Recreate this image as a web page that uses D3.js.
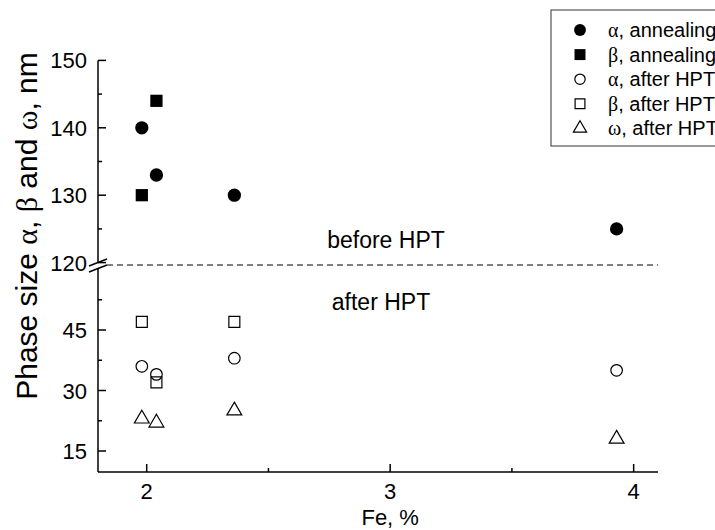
<!DOCTYPE html>
<meta charset="utf-8">
<style>
  body { margin: 0; background: #fff; }
  svg { font-family: Arial, "Liberation Sans", sans-serif; }
  .axis path, .axis line { fill: none; stroke: #000; stroke-width: 1.5px; }
  .greek { font-family: "Liberation Serif", "DejaVu Serif", serif; }
</style>
<body>
<script src="https://d3js.org/d3.v7.min.js"></script>
<script>

// Fe content, %
var feAlphaAnn = [1.98, 2.04, 2.36, 3.93],
    alphaAnn   = [140, 133, 130, 125];
var feBetaAnn  = [1.98, 2.04],
    betaAnn    = [130, 144];
var feAlphaHpt = [1.98, 2.04, 2.36, 3.93],
    alphaHpt   = [36, 34, 38, 35];
var feBetaHpt  = [1.98, 2.04, 2.36],
    betaHpt    = [47, 32, 47];
var feOmegaHpt = [1.98, 2.04, 2.36, 3.93],
    omegaHpt   = [23, 22, 25, 18];

var xTicks = [2, 3, 4],
    xMinor = [2.5, 3.5],
    upperTicks = [120, 130, 140, 150],
    upperMinor = [125, 135, 145],
    lowerTicks = [15, 30, 45],
    lowerMinor = [22.5, 37.5, 52.5];

var W = 715, H = 530;
var x0 = 98, x1 = 658, yBottom = 472, yBreak = 265;

var x = d3.scaleLinear().domain([1.8, 4.1]).range([x0, x1]);
var yUp = d3.scaleLinear().domain([120, 150]).range([262.6, 60.4]);
var yLow = d3.scaleLinear().domain([15, 45]).range([451, 330]);

var svg = d3.select("body").append("svg")
    .attr("width", W)
    .attr("height", H);

// axes
var ax = svg.append("g").attr("class", "axis");
ax.append("line").attr("x1", x0).attr("x2", x1).attr("y1", yBottom).attr("y2", yBottom);
ax.append("line").attr("x1", x0).attr("x2", x0).attr("y1", yUp(150)).attr("y2", yBreak - 3);
ax.append("line").attr("x1", x0).attr("x2", x0).attr("y1", yBreak + 4).attr("y2", yBottom);

ax.selectAll(".xt").data(xTicks).enter().append("line")
    .attr("x1", x).attr("x2", x).attr("y1", yBottom).attr("y2", yBottom - 8);
ax.selectAll(".xm").data(xMinor).enter().append("line")
    .attr("x1", x).attr("x2", x).attr("y1", yBottom).attr("y2", yBottom - 4);

ax.selectAll(".yu").data(upperTicks).enter().append("line")
    .attr("x1", x0).attr("x2", x0 + 8).attr("y1", yUp).attr("y2", yUp);
ax.selectAll(".yum").data(upperMinor).enter().append("line")
    .attr("x1", x0).attr("x2", x0 + 4).attr("y1", yUp).attr("y2", yUp);
ax.selectAll(".yl").data(lowerTicks).enter().append("line")
    .attr("x1", x0).attr("x2", x0 + 8).attr("y1", yLow).attr("y2", yLow);
ax.selectAll(".ylm").data(lowerMinor).enter().append("line")
    .attr("x1", x0).attr("x2", x0 + 4).attr("y1", yLow).attr("y2", yLow);

// break marks
ax.selectAll(".brk").data([-3, 3]).enter().append("line")
    .attr("x1", x0 - 9).attr("x2", x0 + 9)
    .attr("y1", function(d) { return yBreak + d + 4; })
    .attr("y2", function(d) { return yBreak + d - 3; });

// tick labels
svg.selectAll(".xl").data(xTicks).enter().append("text")
    .attr("x", x).attr("y", yBottom + 27)
    .attr("text-anchor", "middle").attr("font-size", 22)
    .text(function(d) { return d; });
svg.selectAll(".yul").data(upperTicks).enter().append("text")
    .attr("x", x0 - 11).attr("y", function(d) { return yUp(d) + 8; })
    .attr("text-anchor", "end").attr("font-size", 22)
    .text(function(d) { return d; });
svg.selectAll(".yll").data(lowerTicks).enter().append("text")
    .attr("x", x0 - 11).attr("y", function(d) { return yLow(d) + 8; })
    .attr("text-anchor", "end").attr("font-size", 22)
    .text(function(d) { return d; });

// axis titles
svg.append("text")
    .attr("x", x(3)).attr("y", 525)
    .attr("text-anchor", "middle").attr("font-size", 22)
    .text("Fe, %");

var yt = svg.append("text")
    .attr("transform", "translate(37,226) rotate(-90)")
    .attr("text-anchor", "middle").attr("font-size", 30);
yt.append("tspan").text("Phase size ");
yt.append("tspan").attr("class", "greek").text("\u03b1");
yt.append("tspan").text(", ");
yt.append("tspan").attr("class", "greek").text("\u03b2");
yt.append("tspan").text(" and ");
yt.append("tspan").attr("class", "greek").text("\u03c9");
yt.append("tspan").text(", nm");

// dashed break line + region labels
svg.append("line")
    .attr("x1", x0 + 9).attr("x2", x1).attr("y1", yBreak).attr("y2", yBreak)
    .attr("stroke", "#555").attr("stroke-width", 1.5).attr("stroke-dasharray", "6,4");
svg.append("text").attr("x", 386).attr("y", 248)
    .attr("text-anchor", "middle").attr("font-size", 23).text("before HPT");
svg.append("text").attr("x", 381).attr("y", 310)
    .attr("text-anchor", "middle").attr("font-size", 23).text("after HPT");

// series
var series = [
  {xs: feAlphaAnn, ys: alphaAnn, y: yUp,  sym: d3.symbolCircle,   size: 139, fill: "#000", label: ["\u03b1", ", annealing"]},
  {xs: feBetaAnn,  ys: betaAnn,  y: yUp,  sym: d3.symbolSquare,   size: 150, fill: "#000", label: ["\u03b2", ", annealing"]},
  {xs: feAlphaHpt, ys: alphaHpt, y: yLow, sym: d3.symbolCircle,   size: 105, fill: "none", label: ["\u03b1", ", after HPT"]},
  {xs: feBetaHpt,  ys: betaHpt,  y: yLow, sym: d3.symbolSquare,   size: 120, fill: "none", label: ["\u03b2", ", after HPT"]},
  {xs: feOmegaHpt, ys: omegaHpt, y: yLow, sym: d3.symbolTriangle, size: 95,  fill: "none", label: ["\u03c9", ", after HPT"]}
];

series.forEach(function(s) {
  var pts = s.xs.map(function(v, i) { return [v, s.ys[i]]; });
  svg.append("g").selectAll("path").data(pts).enter().append("path")
      .attr("transform", function(d) { return "translate(" + x(d[0]) + "," + s.y(d[1]) + ")"; })
      .attr("d", d3.symbol().type(s.sym).size(s.size))
      .attr("fill", s.fill)
      .attr("stroke", "#000")
      .attr("stroke-width", s.fill == "none" ? 1.2 : 0);
});

// legend (clipped by the right edge, as in the original figure)
var lg = svg.append("g");
lg.append("rect")
    .attr("x", 551).attr("y", 10).attr("width", 180).attr("height", 136)
    .attr("fill", "#fff").attr("stroke", "#333").attr("stroke-width", 1);
series.forEach(function(s, i) {
  var ly = 30 + i * 24.6;
  lg.append("path")
      .attr("transform", "translate(580," + ly + ")")
      .attr("d", d3.symbol().type(s.sym).size(s.size * 0.8))
      .attr("fill", s.fill).attr("stroke", "#000")
      .attr("stroke-width", s.fill == "none" ? 1.2 : 0);
  var t = lg.append("text").attr("x", 608).attr("y", ly + 7).attr("font-size", 20);
  t.append("tspan").attr("class", "greek").text(s.label[0]);
  t.append("tspan").text(s.label[1]);
});

</script>
